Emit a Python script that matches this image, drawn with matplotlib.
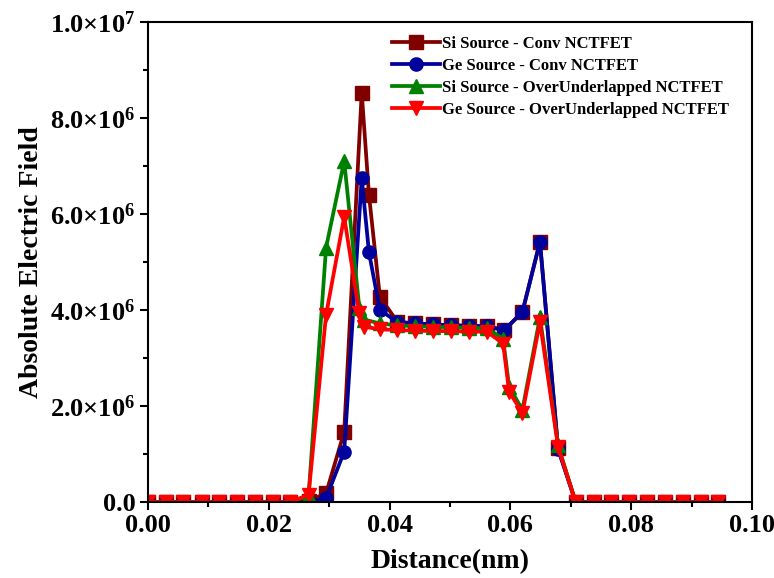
import matplotlib
matplotlib.use("Agg")
import matplotlib.pyplot as plt
from matplotlib.ticker import MultipleLocator, FuncFormatter

# distance grid (nm) - conv devices
x_conv = [0.0, 0.0030, 0.0059, 0.0089, 0.0118, 0.0148, 0.0177, 0.0207, 0.0236,
          0.0266, 0.0295, 0.0325, 0.0354, 0.0366, 0.0384, 0.0413, 0.0443, 0.0472,
          0.0502, 0.0531, 0.0561, 0.0590, 0.0620, 0.0649, 0.0679, 0.0708, 0.0738,
          0.0767, 0.0797, 0.0826, 0.0856, 0.0885, 0.0915, 0.0944]

# distance grid (nm) - over/underlapped devices
x_ou = [0.0, 0.0030, 0.0059, 0.0089, 0.0118, 0.0148, 0.0177, 0.0207, 0.0236,
        0.0266, 0.0295, 0.0325, 0.0350, 0.0358, 0.0384, 0.0413, 0.0443, 0.0472,
        0.0502, 0.0531, 0.0561, 0.0588, 0.0598, 0.0620, 0.0649, 0.0679, 0.0708,
        0.0738, 0.0767, 0.0797, 0.0826, 0.0856, 0.0885, 0.0915, 0.0944]

si_conv = [0, 0, 0, 0, 0, 0, 0, 0, 0,
           0.02e6, 0.18e6, 1.46e6, 8.53e6, 6.40e6, 4.28e6, 3.75e6, 3.72e6, 3.70e6,
           3.68e6, 3.67e6, 3.66e6, 3.58e6, 3.96e6, 5.42e6, 1.12e6, 0, 0,
           0, 0, 0, 0, 0, 0, 0]

ge_conv = [0, 0, 0, 0, 0, 0, 0, 0, 0,
           0.0, 0.08e6, 1.05e6, 6.74e6, 5.20e6, 4.00e6, 3.75e6, 3.72e6, 3.70e6,
           3.68e6, 3.67e6, 3.66e6, 3.58e6, 3.96e6, 5.42e6, 1.10e6, 0, 0,
           0, 0, 0, 0, 0, 0, 0]

si_ou = [0, 0, 0, 0, 0, 0, 0, 0, 0,
         0.12e6, 5.30e6, 7.10e6, 4.05e6, 3.80e6, 3.72e6, 3.68e6, 3.66e6, 3.65e6,
         3.64e6, 3.63e6, 3.62e6, 3.40e6, 2.40e6, 1.92e6, 3.85e6, 1.18e6, 0,
         0, 0, 0, 0, 0, 0, 0, 0]

ge_ou = [0, 0, 0, 0, 0, 0, 0, 0, 0,
         0.15e6, 3.90e6, 5.94e6, 3.93e6, 3.65e6, 3.60e6, 3.58e6, 3.57e6, 3.56e6,
         3.56e6, 3.55e6, 3.55e6, 3.30e6, 2.30e6, 1.85e6, 3.75e6, 1.15e6, 0,
         0, 0, 0, 0, 0, 0, 0, 0]

labels = ["Si Source - Conv NCTFET",
          "Ge Source - Conv NCTFET",
          "Si Source - OverUnderlapped NCTFET",
          "Ge Source - OverUnderlapped NCTFET"]

plt.rcParams["font.family"] = "Liberation Serif"
plt.rcParams["font.weight"] = "bold"
plt.rcParams["mathtext.fontset"] = "custom"
plt.rcParams["mathtext.rm"] = "Liberation Serif:bold"
plt.rcParams["mathtext.it"] = "Liberation Serif:bold"
plt.rcParams["mathtext.bf"] = "Liberation Serif:bold"

fig = plt.figure(figsize=(7.74, 5.78), dpi=100)
ax = fig.add_axes([0.191, 0.1315, 0.7806, 0.8305])

lw = 2.7
ms = 9.5
ax.plot(x_conv, si_conv, color="#800000", marker="s", lw=lw, ms=ms, label=labels[0])
ax.plot(x_conv, ge_conv, color="#00009C", marker="o", lw=lw, ms=ms, label=labels[1])
ax.plot(x_ou, si_ou, color="#008000", marker="^", lw=lw, ms=ms, label=labels[2])
ax.plot(x_ou, ge_ou, color="#FF0000", marker="v", lw=lw, ms=ms + 1, label=labels[3])

ax.set_xlim(0, 0.10)
ax.set_ylim(0, 1.0e7)
ax.xaxis.set_major_locator(MultipleLocator(0.02))
ax.xaxis.set_minor_locator(MultipleLocator(0.01))
ax.yaxis.set_major_locator(MultipleLocator(2e6))
ax.yaxis.set_minor_locator(MultipleLocator(1e6))


def sci_fmt(v, pos):
    if v == 0:
        return "0.0"
    exp = len(str(int(round(v)))) - 1
    mant = v / 10 ** exp
    return "%.1f×10$^{%d}$" % (mant, exp)


ax.yaxis.set_major_formatter(FuncFormatter(sci_fmt))
ax.xaxis.set_major_formatter(FuncFormatter(lambda v, p: "%.2f" % v))

ax.tick_params(axis="both", which="major", direction="out", length=6, width=1.5,
               labelsize=19, top=False, right=False, pad=3)
ax.tick_params(axis="both", which="minor", direction="out", length=3.5, width=1.5,
               top=False, right=False)
for s in ax.spines.values():
    s.set_linewidth(1.5)

ax.set_xlabel("Distance(nm)", fontsize=20, fontweight="bold", labelpad=8)
ax.set_ylabel("Absolute Electric Field", fontsize=20, fontweight="bold", labelpad=4)

ax.legend(loc="upper left", bbox_to_anchor=(0.385, 0.995), frameon=False,
          prop={"family": "Liberation Serif", "weight": "bold", "size": 12},
          handlelength=2.9, handletextpad=0.1, labelspacing=0.35, borderaxespad=0.3)

fig.savefig("out.png", dpi=100)
